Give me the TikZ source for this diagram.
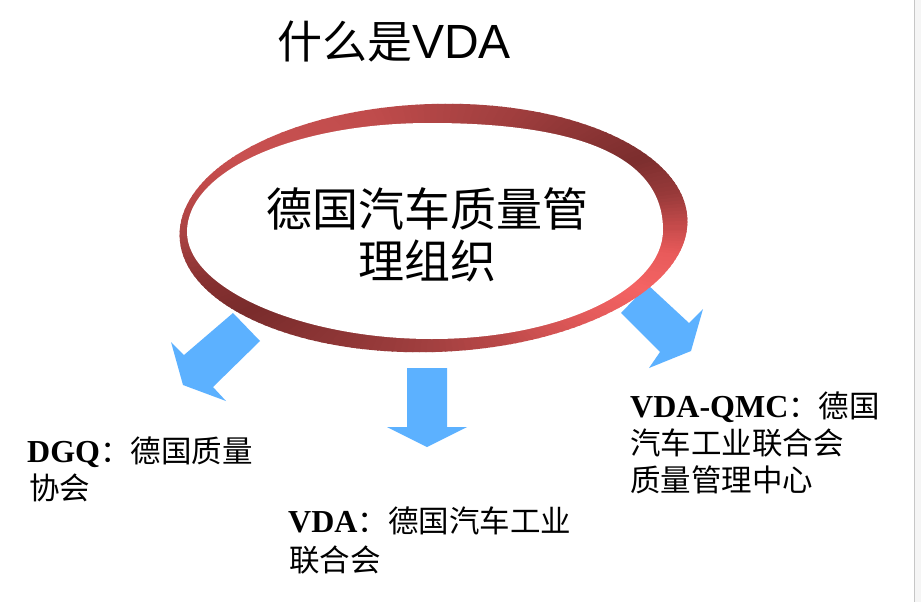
\documentclass[tikz,border=0pt]{standalone}
\usepackage{fontspec}
\setmainfont{Liberation Serif}
\newfontfamily\cjk{Noto Sans CJK SC}
\newfontfamily\arialf{Liberation Sans}
\definecolor{arrowblue}{HTML}{5CB1FF}
\definecolor{c0}{HTML}{C84C4C}
\definecolor{c6}{HTML}{E85A5A}
\definecolor{c16}{HTML}{F46464}
\definecolor{c23}{HTML}{EC5E5E}
\definecolor{c40}{HTML}{D45454}
\definecolor{c60}{HTML}{B84747}
\definecolor{c90}{HTML}{A34040}
\definecolor{c120}{HTML}{943939}
\definecolor{c140}{HTML}{883333}
\definecolor{c156}{HTML}{7A2C2C}
\definecolor{c166}{HTML}{843030}
\definecolor{c178}{HTML}{A84141}
\definecolor{c190}{HTML}{C04A4A}
\definecolor{c200}{HTML}{C85050}
\definecolor{c240}{HTML}{C04C4C}
\definecolor{c272}{HTML}{B04545}
\definecolor{c306}{HTML}{A03E3E}
\definecolor{c328}{HTML}{8C3535}
\definecolor{c342}{HTML}{7C2E2E}
\definecolor{c352}{HTML}{983A3A}
\newcommand{\zh}{\cjk\fontsize{30.5}{37}\selectfont}
\tikzset{
  blockarrow/.style={fill=arrowblue, draw=none},
  lbl/.style={anchor=base west, inner sep=0pt, font=\fontsize{32}{37}\selectfont},
  coretext/.style={anchor=base, inner sep=0pt, font=\cjk\fontsize{46}{52}\selectfont},
  titletext/.style={anchor=base west, inner sep=0pt, font=\cjk\fontsize{45}{50}\selectfont},
}
\begin{document}
\begin{tikzpicture}[x=1pt,y=-1pt]
\useasboundingbox (0,0) rectangle (921,602);
\fill[white] (0,0) rectangle (921,602);
% right margin strip
\fill[gray!8] (914.5,0) rectangle (921,602);
\draw[gray!45, line width=1pt] (914.5,0) -- (914.5,602);

% block arrows (under the ring)
\fill[blockarrow] (233,313) -- (260,341) -- (213,387) -- (226,401) -- (183,385) -- (171,342) -- (184,355) -- cycle;
\fill[blockarrow] (407,368) -- (447,368) -- (447,427) -- (467,427) -- (427,447) -- (387,427) -- (407,427) -- cycle;
\fill[blockarrow] (648,285) -- (689,323) -- (703,309) -- (691,351) -- (649,368) -- (660,352) -- (621,313) -- cycle;

% ring
\begin{scope}
\clip[rotate around={2:(433.5,228)}] (433.5,228) ellipse [x radius=254pt, y radius=124pt];
\foreach \a/\b/\ca/\cb in {0/6/c0/c6, 6/16/c6/c16, 16/23/c16/c23, 23/40/c23/c40, 40/60/c40/c60, 60/90/c60/c90, 90/120/c90/c120, 120/140/c120/c140, 140/156/c140/c156, 156/166/c156/c166, 166/178/c166/c178, 178/190/c178/c190, 190/200/c190/c200, 200/240/c200/c240, 240/272/c240/c272, 272/306/c272/c306, 306/328/c306/c328, 328/342/c328/c342, 342/352/c342/c352, 352/360/c352/c0} {
  \foreach \i in {0,...,9} {
    \pgfmathsetmacro\s{\a+(\b-\a)*\i/10}
    \pgfmathsetmacro\e{\a+(\b-\a)*(\i+1)/10+0.5}
    \pgfmathtruncatemacro\p{\i*10+5}
    \colorlet{wc}{\cb!\p!\ca}
    \fill[wc, shift={(433,228)}] (0,0) -- (\s:320) -- (\e:320) -- cycle;
  }
}
\end{scope}
\fill[white] (663,230) .. controls (663,290) and (559.5,339) .. (432,339)
  .. controls (302,339) and (187,288.7) .. (187,232)
  .. controls (187,171) and (294,123) .. (430,123)
  .. controls (584,123) and (663,159) .. (663,230) -- cycle;

% texts
\node[titletext] (title) at (277,59) {什么是{\arialf\fontsize{48}{50}\selectfont VDA}};
\node[coretext] (core1) at (427,226.5) {德国汽车质量管};
\node[coretext] (core2) at (427,278.5) {理组织};

\node[lbl] (dgq1) at (27,462) {\textbf{DGQ}{\zh ：德国质量}};
\node[lbl] (dgq2) at (29,499) {\zh 协会};

\node[lbl] (vda1) at (288,532) {\textbf{VDA}{\zh ：德国汽车工业}};
\node[lbl] (vda2) at (289,571) {\zh 联合会};

\node[lbl] (qmc1) at (630,417) {\textbf{VDA-QMC}{\zh ：德国}};
\node[lbl] (qmc2) at (630,454) {\zh 汽车工业联合会};
\node[lbl] (qmc3) at (630,491) {\zh 质量管理中心};
\end{tikzpicture}
\end{document}
